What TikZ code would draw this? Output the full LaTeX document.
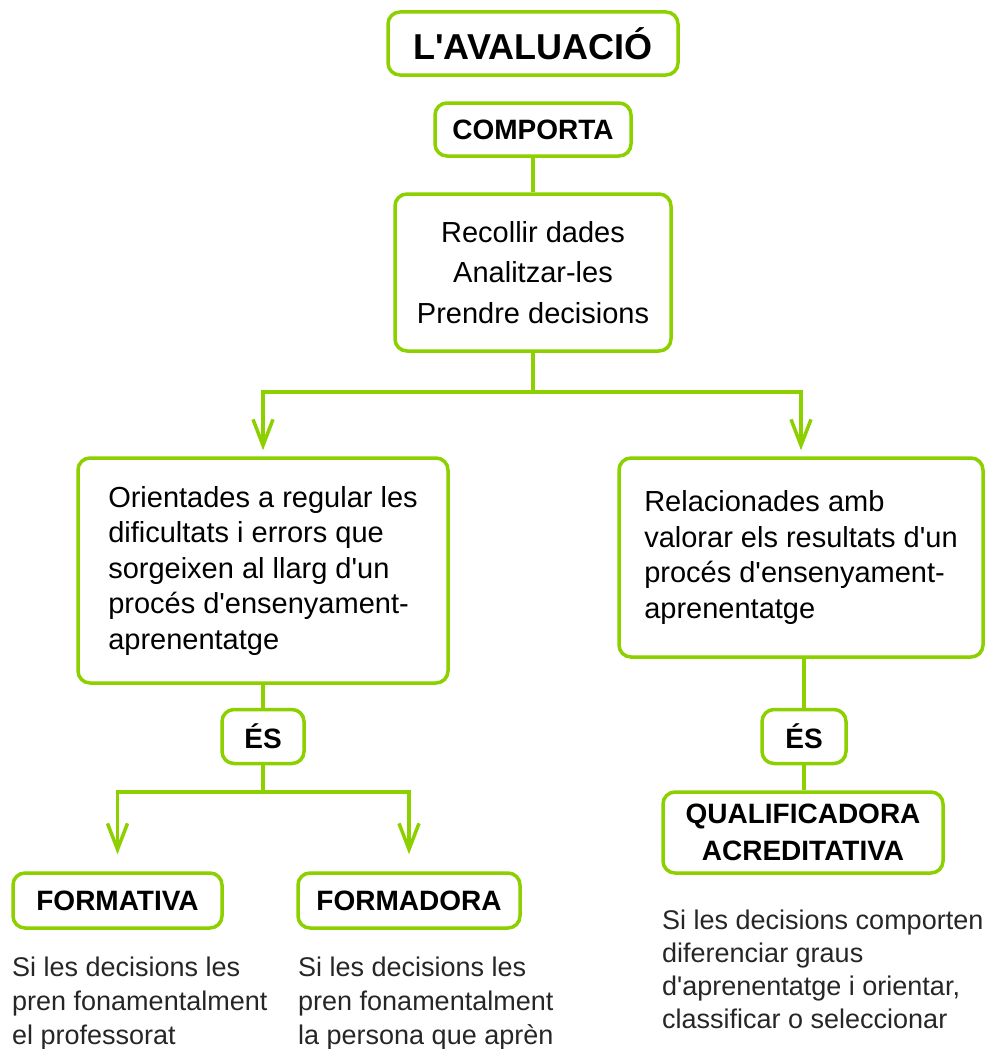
\documentclass[tikz,border=0pt]{standalone}
\usepackage{fontspec}
\setmainfont{Liberation Sans}[Ligatures=TeXOff]
\usetikzlibrary{arrows.meta}
\definecolor{lime}{RGB}{140,208,0}
\begin{document}
\begin{tikzpicture}[x=1pt,y=-1pt,
 box/.style={draw=lime, line width=3.5pt, rounded corners=12pt, fill=white, inner sep=0pt, align=center},
 boldlbl/.style={font=\bfseries\fontsize{28}{37}\selectfont},
 bodytxt/.style={font=\fontsize{29}{35.5}\selectfont},
 note/.style={font=\fontsize{27}{34}\selectfont, text=black!85, inner sep=0pt, align=left, anchor=north west},
 conn/.style={draw=lime, line width=3.5pt},
 arr/.style={conn, -{Straight Barb[length=26pt,width=20pt]}}
]
\useasboundingbox (0,0) rectangle (986,1049);

\node[box, minimum width=290, minimum height=63, font=\bfseries\fontsize{36}{40}\selectfont] (title) at (533,43.5) {L'AVALUACIÓ};
\node[box, boldlbl, minimum width=196, minimum height=53] (comp) at (533,129.5) {COMPORTA};
\node[box, font=\fontsize{29}{40.5}\selectfont, minimum width=276, minimum height=157] (mid) at (533,272.5) {Recollir dades\\Analitzar-les\\Prendre decisions};

\node[box, bodytxt, align=left, minimum width=370, minimum height=225] (left) at (263,570.5) {Orientades a regular les\\dificultats i errors que\\sorgeixen al llarg d'un\\procés d'ensenyament-\\aprenentatge};
\node[box, bodytxt, align=left, minimum width=364, minimum height=199] (right) at (801,557.5) {Relacionades amb\\valorar els resultats d'un\\procés d'ensenyament-\\aprenentatge};

\node[box, boldlbl, minimum width=82, minimum height=54] (es1) at (263,736.5) {ÉS};
\node[box, boldlbl, minimum width=84, minimum height=54] (es2) at (804,736.5) {ÉS};

\node[box, boldlbl, minimum width=209, minimum height=55] (formativa) at (117.5,900.5) {FORMATIVA};
\node[box, boldlbl, minimum width=222, minimum height=55] (formadora) at (409,900.5) {FORMADORA};
\node[box, boldlbl, minimum width=280, minimum height=81] (qual) at (803,832.5) {QUALIFICADORA\\ACREDITATIVA};

\node[note] (n1) at (12,957) {Si les decisions les\\pren fonamentalment\\el professorat};
\node[note] (n2) at (298,957) {Si les decisions les\\pren fonamentalment\\la persona que aprèn};
\node[note, font=\fontsize{27}{33}\selectfont] (n3) at (662,910) {Si les decisions comporten\\diferenciar graus\\d'aprenentatge i orientar,\\classificar o seleccionar};

% connectors
\draw[conn] (comp.south) -- (mid.north);
\coordinate (j1) at (533,392);
\draw[conn] (mid.south) -- (j1);
\draw[arr, shorten >=6pt] (j1) -| (left.north);
\draw[arr, shorten >=6pt] (j1) -| (right.north);

\draw[conn] (left.south) -- (es1.north);
\coordinate (j2) at (263,792);
\draw[conn] (es1.south) -- (j2);
\draw[arr, shorten >=17pt] (j2) -| (formativa.north);
\draw[arr, shorten >=17pt] (j2) -| (formadora.north);

\draw[conn] (right.south -| es2.north) -- (es2.north);
\draw[conn] (es2.south) -- (es2.south |- qual.north);
\end{tikzpicture}
\end{document}
